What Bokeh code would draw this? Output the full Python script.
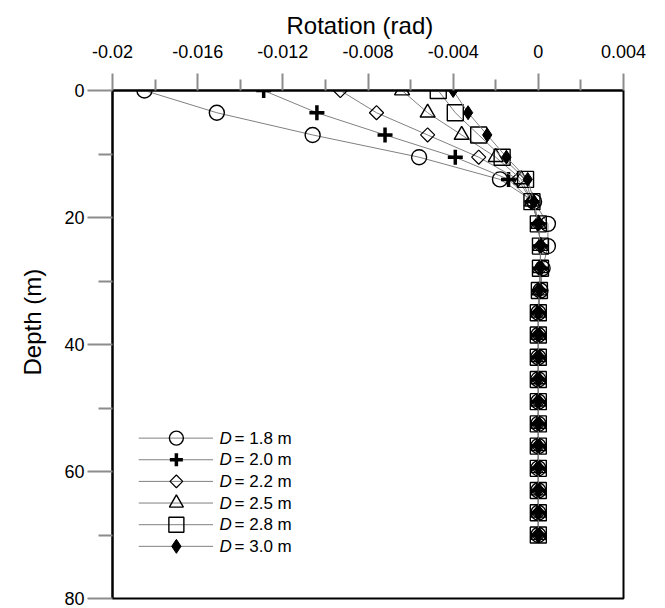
from math import pi
from bokeh.plotting import figure
from bokeh.models import Range1d, FixedTicker, Title
from bokeh.core.properties import value
from bokeh.embed import file_html
from bokeh.resources import INLINE

depth = [0, 3.5, 7, 10.5, 14, 17.5, 21, 24.5, 28, 31.5, 35, 38.5, 42, 45.5,
         49, 52.5, 56, 59.5, 63, 66.5, 70]
zeros_tail = [0.0] * 11

rot_d18 = [-0.0185, -0.0151, -0.0106, -0.0056, -0.0018, -0.0002, 0.00045, 0.00045, 0.0002, 0.0001] + zeros_tail
rot_d20 = [-0.0129, -0.0104, -0.0072, -0.0039, -0.0014, -0.0003, 0.0, 0.0001, 0.0001, 0.00005] + zeros_tail
rot_d22 = [-0.0093, -0.0076, -0.0052, -0.0028, -0.00095, -0.0003, 0.0, 0.0001, 0.0001, 0.00005] + zeros_tail
rot_d25 = [-0.0064, -0.0052, -0.0036, -0.0020, -0.0008, -0.0003, 0.0, 0.0001, 0.0001, 0.00005] + zeros_tail
rot_d28 = [-0.0047, -0.0039, -0.0028, -0.0017, -0.0006, -0.0003, 0.0, 0.0001, 0.0001, 0.00005] + zeros_tail
rot_d30 = [-0.0040, -0.0033, -0.0024, -0.0015, -0.0005, -0.0002, 0.0, 0.0001, 0.0001, 0.00005] + zeros_tail

series_labels = ["1.8", "2.0", "2.2", "2.5", "2.8", "3.0"]
x_ticks = [-0.02, -0.016, -0.012, -0.008, -0.004, 0.0, 0.004]
x_tick_labels = ["-0.02", "-0.016", "-0.012", "-0.008", "-0.004", "0", "0.004"]
x_minor = [-0.018, -0.014, -0.010, -0.006, -0.002, 0.002]
y_ticks = [0, 20, 40, 60, 80]
y_minor = [10, 30, 50, 70]
x_title = "Rotation (rad)"
y_title = "Depth (m)"

FONT = "Liberation Sans"

p = figure(width=660, height=608, output_backend="svg", toolbar_location=None,
           x_range=Range1d(-0.02, 0.004), y_range=Range1d(80, 0),
           x_axis_location="above", y_axis_location="left",
           min_border_left=111, min_border_top=90, min_border_right=37,
           min_border_bottom=10)
p.xgrid.visible = False
p.ygrid.visible = False
p.outline_line_color = "black"
p.outline_line_width = 2
p.background_fill_color = "white"
p.border_fill_color = "white"

xa = p.xaxis[0]
xa.ticker = FixedTicker(ticks=x_ticks, minor_ticks=x_minor)
xa.major_label_overrides = {t: l for t, l in zip(x_ticks, x_tick_labels)}
ya = p.yaxis[0]
ya.ticker = FixedTicker(ticks=y_ticks, minor_ticks=y_minor)

for ax in (xa, ya):
    ax.axis_line_color = "black"
    ax.axis_line_width = 2
    ax.major_tick_line_color = "#8c8c8c"
    ax.minor_tick_line_color = "#8c8c8c"
    ax.major_tick_line_width = 2
    ax.minor_tick_line_width = 2
    ax.major_tick_in = 0
    ax.minor_tick_in = 0
    ax.major_label_text_font = FONT
    ax.major_label_text_font_size = "18px"
    ax.major_label_text_color = "black"

xa.major_tick_out = 17
xa.minor_tick_out = 11
xa.major_label_standoff = 16
ya.major_tick_out = 25
ya.minor_tick_out = 14
ya.major_label_standoff = 3

# axis titles as Title annotations (allow an offset along the axis)
p.title.text = x_title
p.title.align = "left"
p.title.offset = 174
p.title.text_font = FONT
p.title.text_font_size = "24px"
p.title.text_font_style = "normal"
p.title.text_color = "black"
p.title.standoff = 6

ytitle = Title(text=y_title, align="left", offset=223, text_font=FONT,
               text_font_size="24px", text_font_style="normal",
               text_color="black", standoff=32)
p.add_layout(ytitle, "left")

LINE = "#808080"
all_series = [rot_d18, rot_d20, rot_d22, rot_d25, rot_d28, rot_d30]

styles = [
    dict(marker="circle", size=15, line_color="black", fill_color=None, line_width=1.4),
    dict(marker="cross", size=15, line_color="black", line_width=3.5),
    dict(marker="square", size=10, angle=pi / 4, line_color="black", fill_color=None, line_width=1.2),
    dict(marker="triangle", size=15, line_color="black", fill_color=None, line_width=1.4),
    dict(marker="square", size=16, line_color="black", fill_color=None, line_width=1.4),
    dict(marker="diamond", size=14, line_color="black", fill_color="black", line_width=1),
]

for vals, st in zip(all_series, styles):
    p.line(vals, depth, line_color=LINE, line_width=1)
    p.scatter(vals, depth, **st)

# legend drawn in a 0..1 frame-fraction coordinate system
p.extra_x_ranges["leg"] = Range1d(0, 1)
p.extra_y_ranges["leg"] = Range1d(0, 1)
leg_x0, leg_x1, leg_xm, leg_xt = 0.0514, 0.1967, 0.125, 0.2096
leg_y_top, leg_dy = 0.3157, 0.0426
leg_styles = [
    dict(marker="circle", size=14, line_color="black", fill_color=None, line_width=1.4),
    dict(marker="cross", size=13, line_color="black", line_width=3.5),
    dict(marker="square", size=9, angle=pi / 4, line_color="black", fill_color=None, line_width=1.2),
    dict(marker="triangle", size=14, line_color="black", fill_color=None, line_width=1.4),
    dict(marker="square", size=15, line_color="black", fill_color=None, line_width=1.4),
    dict(marker="diamond", size=14, line_color="black", fill_color="black", line_width=1),
]
for i, (lab, st) in enumerate(zip(series_labels, leg_styles)):
    yy = leg_y_top - i * leg_dy
    p.line([leg_x0, leg_x1], [yy, yy], line_color=LINE, line_width=1,
           x_range_name="leg", y_range_name="leg")
    p.scatter([leg_xm], [yy], x_range_name="leg", y_range_name="leg", **st)
    p.text([leg_xt], [yy], text=["D"], text_font=value(FONT), text_font_size="17px",
           text_font_style="italic", text_baseline="middle", text_color="black",
           x_range_name="leg", y_range_name="leg")
    p.text([leg_xt], [yy], text=["= " + lab + " m"], x_offset=15,
           text_font=value(FONT), text_font_size="17px",
           text_baseline="middle", text_color="black",
           x_range_name="leg", y_range_name="leg")

open("out.html", "w").write(file_html(p, INLINE))
